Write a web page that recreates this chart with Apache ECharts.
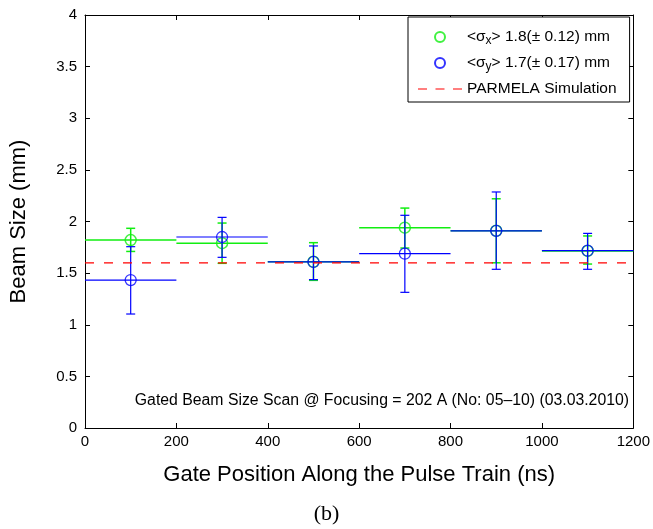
<!DOCTYPE html>
<html>
<head>
<meta charset="utf-8">
<script src="https://cdn.jsdelivr.net/npm/echarts@6/dist/echarts.min.js"></script>
<style>
html,body{margin:0;padding:0;background:#fff;}
#chart{width:653px;height:529px;}
</style>
</head>
<body>
<div id="chart"></div>
<script>
// ---- data ----
var gatePos = [100, 300, 500, 700, 900, 1100];
var gateHalfWidth = [100, 100, 100, 100, 100, 100];
var sxMean = [1.82, 1.79, 1.61, 1.94, 1.91, 1.715];
var sxLow  = [1.71, 1.595, 1.43, 1.743, 1.60, 1.588];
var sxHigh = [1.934, 1.985, 1.795, 2.13, 2.22, 1.86];
var syMean = [1.433, 1.85, 1.608, 1.688, 1.91, 1.717];
var syLow  = [1.104, 1.653, 1.437, 1.314, 1.537, 1.537];
var syHigh = [1.756, 2.04, 1.763, 2.06, 2.286, 1.885];
var simX = [0, 1200];
var simY = [1.6, 1.6];
var xTicks = [0, 200, 400, 600, 800, 1000, 1200];
var yTicks = [0, 0.5, 1, 1.5, 2, 2.5, 3, 3.5, 4];
var legendTexts = {
  sx: '{t|<σ}{s|x}{t|> 1.8(± 0.12) mm}',
  sy: '{t|<σ}{s|y}{t|> 1.7(± 0.17) mm}',
  sim: '{t|PARMELA Simulation}'
};
var titleX = 'Gate Position Along the Pulse Train (ns)';
var titleY = 'Beam Size (mm)';
var note = 'Gated Beam Size Scan @ Focusing = 202 A (No: 05\u201310) (03.03.2010)';
var caption = '(b)';

var GREEN = '#11ee11';
var BLUE = '#0000ff';
var RED = '#ff0000';
var FONT = 'Liberation Sans, Arial, Helvetica, sans-serif';

function rows(xs, hw, m, lo, hi) {
  return xs.map(function (x, i) { return [x, m[i], lo[i], hi[i], hw[i]]; });
}

function errRender(color, width) {
  return function (params, api) {
    var x = api.value(0), m = api.value(1), lo = api.value(2), hi = api.value(3), hw = api.value(4);
    var pL = api.coord([x - hw, m]);
    var pR = api.coord([x + hw, m]);
    var pLo = api.coord([x, lo]);
    var pHi = api.coord([x, hi]);
    var cap = 4.5;
    var st = { stroke: color, lineWidth: width, fill: null };
    return {
      type: 'group',
      children: [
        { type: 'line', shape: { x1: pL[0], y1: pL[1], x2: pR[0], y2: pR[1] }, style: st },
        { type: 'line', shape: { x1: pLo[0], y1: pLo[1], x2: pHi[0], y2: pHi[1] }, style: st },
        { type: 'line', shape: { x1: pLo[0] - cap, y1: pLo[1], x2: pLo[0] + cap, y2: pLo[1] }, style: st },
        { type: 'line', shape: { x1: pHi[0] - cap, y1: pHi[1], x2: pHi[0] + cap, y2: pHi[1] }, style: st }
      ]
    };
  };
}

var chart = echarts.init(document.getElementById('chart'), null, { renderer: 'canvas' });

function axisCommon() {
  return {
    axisLine: { show: true, onZero: false, lineStyle: { color: '#000', width: 1 } },
    axisTick: { show: true, inside: true, length: 5, lineStyle: { color: '#000' } },
    splitLine: { show: false }
  };
}
var plainNum = function (v) { return String(v); };

var option = {
  backgroundColor: '#fff',
  animation: false,
  grid: { left: 85, right: 19, top: 15, bottom: 101, containLabel: false },
  xAxis: [
    Object.assign({
      type: 'value', min: xTicks[0], max: xTicks[xTicks.length - 1], interval: 200,
      position: 'bottom',
      name: titleX, nameLocation: 'middle', nameGap: 36,
      nameTextStyle: { fontFamily: FONT, fontSize: 22, color: '#000' },
      axisLabel: { fontFamily: FONT, fontSize: 15, color: '#000', margin: 6, formatter: plainNum }
    }, axisCommon()),
    Object.assign({
      type: 'value', min: xTicks[0], max: xTicks[xTicks.length - 1], interval: 200,
      position: 'top', axisLabel: { show: false }
    }, axisCommon())
  ],
  yAxis: [
    Object.assign({
      type: 'value', min: yTicks[0], max: yTicks[yTicks.length - 1], interval: 0.5,
      position: 'left',
      name: titleY, nameLocation: 'middle', nameGap: 55,
      nameTextStyle: { fontFamily: FONT, fontSize: 22, color: '#000' },
      axisLabel: { fontFamily: FONT, fontSize: 15, color: '#000', margin: 8, formatter: plainNum }
    }, axisCommon()),
    Object.assign({
      type: 'value', min: yTicks[0], max: yTicks[yTicks.length - 1], interval: 0.5,
      position: 'right', axisLabel: { show: false }
    }, axisCommon())
  ],
  legend: {
    data: [
      { name: 'sx', icon: 'circle' },
      { name: 'sy', icon: 'circle' },
      { name: 'sim', icon: 'path://M0,0h9v1h-9zM17.5,0h9v1h-9zM35,0h9v1h-9z',
        itemStyle: { color: RED, borderWidth: 0 } }
    ],
    orient: 'vertical',
    left: 408,
    top: 17,
    padding: [10, 13, 3, 10],
    itemWidth: 44,
    itemHeight: 10,
    itemGap: 6,
    borderColor: '#000',
    borderWidth: 1,
    borderRadius: 0,
    backgroundColor: '#fff',
    selectedMode: false,
    formatter: function (n) { return legendTexts[n]; },
    textStyle: {
      fontFamily: FONT, fontSize: 15, color: '#000', lineHeight: 20,
      rich: {
        t: { fontFamily: FONT, fontSize: 15.5, color: '#000', lineHeight: 20, verticalAlign: 'middle' },
        s: { fontFamily: FONT, fontSize: 12, color: '#000', lineHeight: 12, verticalAlign: 'bottom', padding: [8, 0, 0, 0] }
      }
    }
  },
  graphic: [
    {
      type: 'text', right: 24, top: 393, z: 10,
      style: { text: note, fontFamily: FONT, fontSize: 15.8, fill: '#000' }
    },
    {
      type: 'text', left: 'center', top: 503, z: 10,
      style: { text: caption, fontFamily: 'Liberation Serif, Times New Roman, serif', fontSize: 22, fill: '#000' }
    }
  ],
  series: [
    {
      name: 'sxErr', type: 'custom', data: rows(gatePos, gateHalfWidth, sxMean, sxLow, sxHigh),
      renderItem: errRender(GREEN, 1.5), z: 2, encode: { x: 0, y: [1, 2, 3] }
    },
    {
      name: 'sx', type: 'scatter', data: gatePos.map(function (x, i) { return [x, sxMean[i]]; }),
      symbol: 'circle', symbolSize: 11, z: 3,
      itemStyle: { color: 'rgba(0,0,0,0)', borderColor: GREEN, borderWidth: 1.5 }
    },
    {
      name: 'syErr', type: 'custom', data: rows(gatePos, gateHalfWidth, syMean, syLow, syHigh),
      renderItem: errRender(BLUE, 1.2), z: 4, encode: { x: 0, y: [1, 2, 3] }
    },
    {
      name: 'sy', type: 'scatter', data: gatePos.map(function (x, i) { return [x, syMean[i]]; }),
      symbol: 'circle', symbolSize: 11, z: 5,
      itemStyle: { color: 'rgba(0,0,0,0)', borderColor: BLUE, borderWidth: 1.3 }
    },
    {
      name: 'sim', type: 'line', data: simX.map(function (x, i) { return [x, simY[i]]; }),
      symbol: 'none', z: 6,
      lineStyle: { color: RED, width: 1.2, type: [9, 10] },
      itemStyle: { color: RED }
    }
  ]
};
chart.setOption(option);
</script>
</body>
</html>
